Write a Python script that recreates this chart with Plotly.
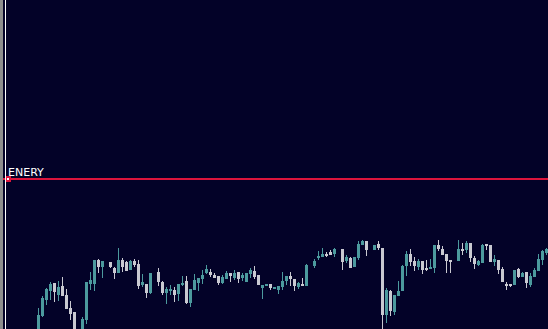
import plotly.graph_objects as go

# bar index (gaps are missing bars)
bars = [k for k in range(128) if k not in (17, 29, 68, 75, 83, 104)]

opens = [68, 84, 100, 109, 117, 105, 114, 105, 92, 88, 65, 63, 80, 116, 116, 140, 133,
         138, 132, 127, 140, 138, 130, 139, 136, 115, 116, 107,
         128, 118, 107, 109, 110, 106, 115, 119, 97, 110, 117, 121, 127, 128, 125, 124, 117, 121,
         127, 122, 128, 122, 118, 126, 129, 125, 112, 114, 116, 111, 110, 113, 119, 124, 121, 113,
         116, 114,
         134, 142, 143, 146, 148, 146,
         151, 139, 142, 133, 142, 155, 159,
         150, 156, 152, 85, 109, 88, 104, 109, 134, 146, 139, 133, 139, 132, 131, 132, 155, 151,
         146, 140,
         139, 151, 150, 157, 142, 135, 137, 156, 155, 138, 140, 131, 116, 116, 115, 131, 123, 128,
         115, 123, 129, 140, 147]
highs = [92, 104, 112, 118, 117, 119, 123, 111, 99, 88, 67, 83, 118, 128, 140, 141, 139,
         138, 133, 152, 142, 139, 140, 141, 140, 126, 116, 127,
         132, 119, 113, 115, 113, 116, 124, 124, 111, 126, 122, 130, 135, 131, 127, 124, 125, 129,
         127, 130, 128, 127, 127, 132, 134, 125, 115, 116, 116, 113, 114, 128, 124, 128, 121, 118,
         122, 136,
         141, 149, 152, 148, 150, 152,
         151, 145, 143, 143, 159, 160, 159,
         155, 159, 152, 112, 110, 105, 119, 135, 149, 151, 143, 141, 139, 140, 141, 155, 160, 154,
         146, 140,
         160, 157, 159, 157, 144, 140, 156, 156, 155, 145, 140, 133, 118, 116, 130, 132, 128, 128,
         127, 132, 146, 150, 152]
lows = [66, 83, 95, 100, 98, 99, 104, 91, 80, 63, 58, 61, 76, 110, 109, 127, 122,
        132, 121, 127, 128, 129, 130, 133, 111, 113, 102, 106,
        114, 105, 96, 105, 98, 99, 114, 96, 93, 110, 109, 116, 126, 123, 122, 115, 116, 121,
        118, 120, 117, 119, 118, 122, 121, 115, 101, 114, 110, 111, 106, 110, 115, 114, 109, 111,
        114, 114,
        132, 140, 143, 143, 145, 143,
        130, 137, 132, 133, 140, 155, 144,
        150, 150, 69, 77, 84, 85, 104, 109, 124, 134, 129, 130, 126, 129, 131, 127, 149, 145,
        127, 127,
        139, 145, 147, 138, 131, 134, 137, 150, 138, 134, 126, 118, 110, 113, 115, 122, 123, 112,
        113, 123, 129, 135, 145]
closes = [85, 102, 111, 116, 108, 113, 104, 91, 86, 65, 61, 81, 118, 120, 140, 133, 139,
          133, 127, 140, 133, 129, 139, 135, 114, 118, 107, 127,
          118, 107, 111, 111, 105, 116, 117, 97, 111, 120, 122, 125, 131, 125, 122, 117, 123, 127,
          124, 127, 121, 125, 127, 130, 123, 115, 115, 116, 112, 113, 114, 119, 124, 121, 114, 117,
          114, 135,
          139, 144, 146, 144, 145, 151,
          138, 143, 132, 143, 156, 159, 150,
          155, 152, 85, 110, 89, 105, 109, 134, 146, 138, 134, 139, 130, 130, 133, 155, 151, 145,
          139, 138,
          151, 149, 157, 142, 136, 139, 155, 154, 138, 141, 130, 118, 114, 114, 130, 123, 127, 117,
          124, 130, 141, 149, 151]

level_value = 221
level_name = "ENERY"

BG = "#030228"
UP = "#4C9A9E"
DOWN = "#C9C9D1"

W, H = 548, 329
YTOP = 400
colors = [UP if c >= o else DOWN for o, c in zip(opens, closes)]

fig = go.Figure()

for col in (UP, DOWN):
    wx, wy = [], []
    for k, hi, lo, cc in zip(bars, highs, lows, colors):
        if cc == col:
            wx += [k, k, None]
            wy += [hi, lo, None]
    fig.add_trace(go.Scatter(x=wx, y=wy, mode="lines", line=dict(color=col, width=1),
                             hoverinfo="skip", showlegend=False))

fig.add_trace(go.Bar(
    x=bars,
    y=[max(abs(c - o), 1) for o, c in zip(opens, closes)],
    base=[min(o, c) for o, c in zip(opens, closes)],
    width=0.75,
    marker=dict(color=colors, line=dict(width=0)),
    showlegend=False,
))

# horizontal level line
fig.add_shape(type="line", xref="paper", x0=0, x1=1, yref="y", y0=level_value, y1=level_value,
              line=dict(color="#DC143C", width=2))
# small anchor square
fig.add_shape(type="rect", xref="paper", x0=6 / W, x1=10 / W, yref="y",
              y0=level_value - 2, y1=level_value + 2,
              line=dict(color="#DC143C", width=2), fillcolor="#FFFFFF")
fig.add_annotation(text=level_name, xref="paper", x=7 / W, xanchor="left",
                   yref="y", y=level_value + 1, yanchor="bottom", yshift=-2, showarrow=False,
                   font=dict(family="DejaVu Sans", size=11, color="#FFFFFF"), borderpad=0)

# left border lines
fig.add_shape(type="rect", xref="paper", x0=0, x1=3 / W, yref="paper", y0=0, y1=1,
              line=dict(width=0), fillcolor="#8C8C8C", layer="above")
fig.add_shape(type="line", xref="paper", x0=5.5 / W, x1=5.5 / W, yref="paper", y0=0, y1=1,
              line=dict(color="#FFFFFF", width=1), layer="above")

fig.update_layout(
    width=W, height=H,
    margin=dict(l=0, r=0, t=0, b=0),
    paper_bgcolor=BG, plot_bgcolor=BG,
    showlegend=False, bargap=0,
    xaxis=dict(range=[-9.625, 127.375], visible=False, showgrid=False, zeroline=False),
    yaxis=dict(range=[YTOP - H, YTOP], visible=False, showgrid=False, zeroline=False),
)

fig.write_html("out.html")
